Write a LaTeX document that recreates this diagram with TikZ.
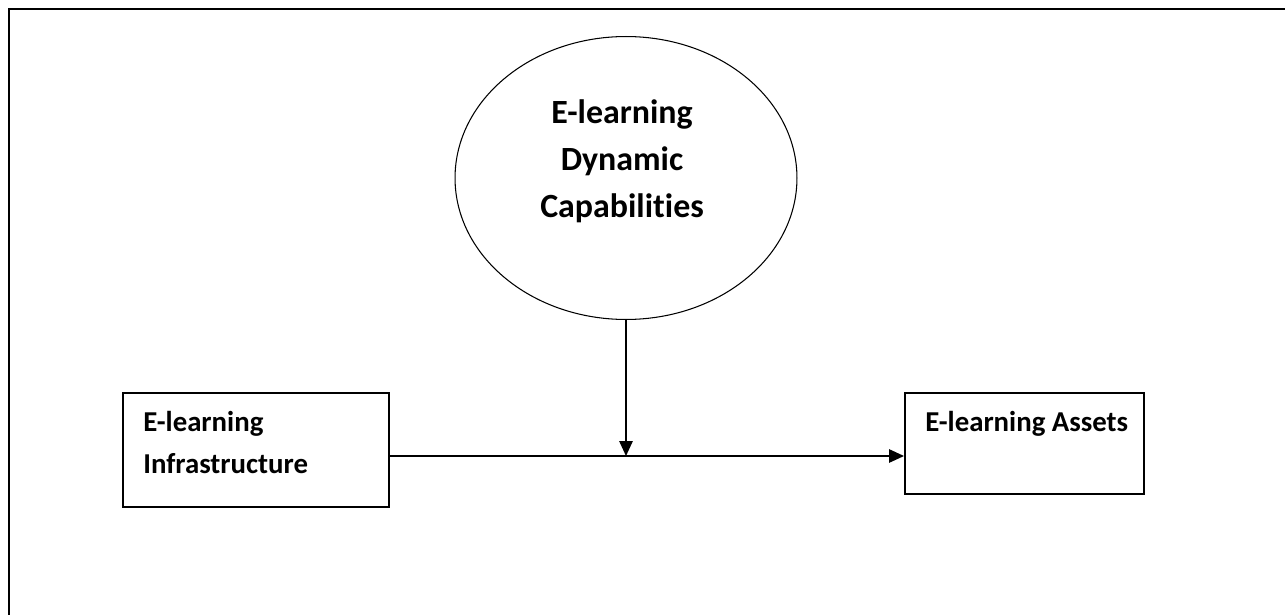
\documentclass[tikz,border=0pt]{standalone}
\usepackage{fontspec}
\setmainfont{Carlito}[Ligatures=NoCommon]
\usetikzlibrary{shapes.geometric,arrows.meta}

\begin{document}
\begin{tikzpicture}[x=0.02cm,y=-0.02cm,
		frame/.style={line width=1.15pt},
		box/.style={rectangle,draw,line width=1.1pt,inner sep=0pt},
		boxtext/.style={anchor=north west,inner sep=0pt,align=left,font=\fontsize{16.4}{23.9}\selectfont\bfseries},
		arrow/.style={line width=0.8pt,-{Triangle[length=0.3cm,width=0.27cm]}}]
		\useasboundingbox (0,0) rectangle (1285,615);
		% outer frame, top and left only
		\draw[frame] (9,615) -- (9,9) -- (1285,9);
		% moderator
		\node [ellipse,draw,line width=0.6pt,minimum width=6.84cm,minimum height=5.66cm] (dyn) at (626,178) {};
		\node [align=center,inner sep=0pt,font=\fontsize{19.3}{26.7}\selectfont\bfseries] (dyntext) at (622,161) {E-learning\\Dynamic\\Capabilities};
		% boxes
		\node [box,anchor=north west,minimum width=5.32cm,minimum height=2.28cm] (infra) at (122,392) {};
		\node [boxtext] (infratext) at (143,411) {E-learning\\Infrastructure};
		\node [box,anchor=north west,minimum width=4.78cm,minimum height=2.02cm] (assets) at (904,392) {};
		\node [boxtext] (assetstext) at (925,411) {E-learning Assets};
		% arrows
		\coordinate (j) at (626,456);
		\draw[arrow] (infra.east |- j) -- (assets.west |- j);
		\draw[arrow] (dyn.south) -- (j);
\end{tikzpicture}
\end{document}
